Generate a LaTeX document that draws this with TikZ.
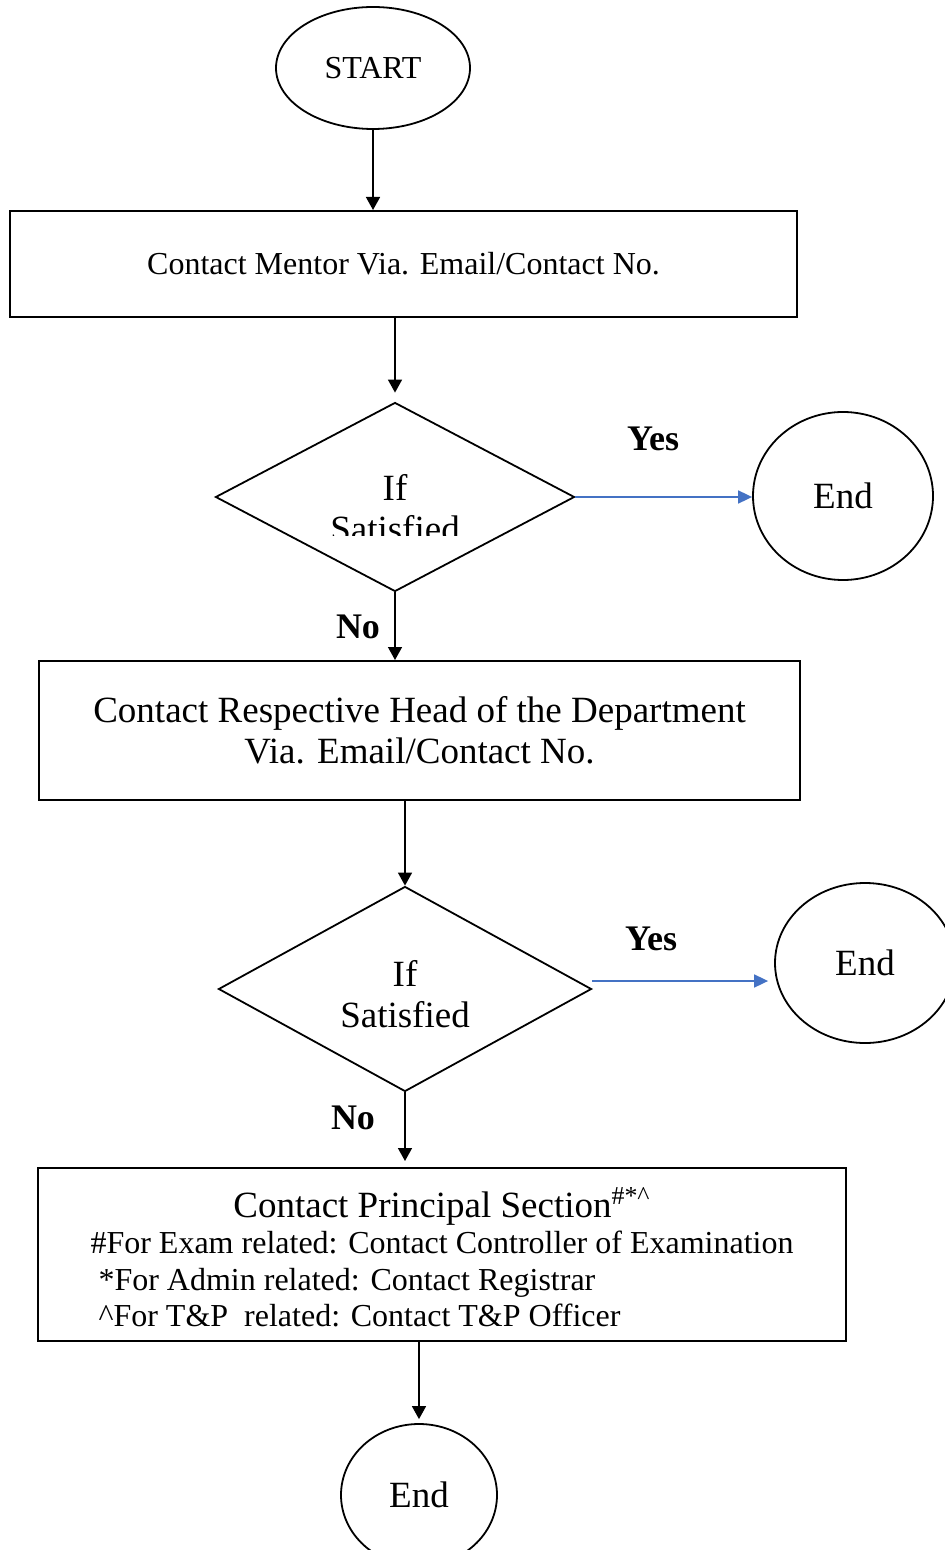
\documentclass[tikz,border=0pt]{standalone}
\usepackage{fontspec}
\setmainfont{Liberation Serif}
\usetikzlibrary{shapes.geometric,arrows.meta,positioning}
\definecolor{yesblue}{RGB}{68,114,196}
\tikzset{
  procbox/.style={draw,line width=1pt,rectangle,inner sep=0pt,align=center},
  decision/.style={draw,line width=0.9pt,diamond,inner sep=0pt,aspect=2},
  terminal/.style={draw,line width=0.9pt,ellipse,inner sep=0pt},
  flow/.style={line width=0.75pt,-{Triangle[length=6.5pt,width=7pt]}},
  yesflow/.style={yesblue,line width=0.85pt,-{Triangle[length=7pt,width=6.5pt]}},
  answer/.style={font=\fontsize{18}{20}\selectfont\bfseries},
  bigtext/.style={font=\fontsize{18.5}{20.5}\selectfont},
  smalltext/.style={font=\fontsize{16}{18.25}\selectfont}
}
\begin{document}
\begin{tikzpicture}[x=0.5pt,y=-0.5pt]
    \useasboundingbox (0,0) rectangle (945,1550);

    % Shapes
    \node[terminal,smalltext,minimum width=97pt,minimum height=61pt] (start) at (373,68) {START};
    \node[procbox,smalltext,minimum width=393.5pt,minimum height=53pt] (mentor) at (403.5,264)
        {Contact Mentor Via. Email/Contact No.};
    \node[decision,minimum width=179.5pt,minimum height=94.5pt] (d1) at (395,497) {};
    \node[terminal,bigtext,minimum width=90pt,minimum height=84pt] (end1) at (843,496) {End};
    \node[procbox,bigtext,minimum width=380.5pt,minimum height=69.5pt] (hod) at (419.5,730.5)
        {Contact Respective Head of the Department\\Via. Email/Contact No.};
    \node[decision,minimum width=186.5pt,minimum height=102.5pt] (d2) at (405,989) {};
    \node[bigtext,align=center] (d2text) at (405,994) {If\\Satisfied};
    \node[terminal,bigtext,minimum width=90pt,minimum height=80pt] (end2) at (865,963) {End};
    \node[procbox,smalltext,minimum width=404pt,minimum height=86.5pt] (principal) at (442,1254.5)
        {\raisebox{-4pt}[\height][\depth]{\begin{tabular}{@{}l@{}}
         \multicolumn{1}{c}{\fontsize{18.5}{20}\selectfont Contact Principal Section\textsuperscript{\#*\textasciicircum}}\\
         \#For Exam related: Contact Controller of Examination\\
         \ *For Admin related: Contact Registrar\\
         \ \textasciicircum For T\&P\ \ related: Contact T\&P Officer
         \end{tabular}}};
    \node[terminal,bigtext,minimum width=78pt,minimum height=71pt] (end3) at (419,1495) {End};

    % first decision text, cut at the bottom
    \begin{scope}
        \clip (250,420) rectangle (550,535);
        \node[bigtext,align=center] (d1text) at (395,508) {If\\Satisfied};
    \end{scope}

    % Labels
    \node[answer] (yes1) at (653,439) {Yes};
    \node[answer] (no1) at (358,627) {No};
    \node[answer] (yes2) at (651,939) {Yes};
    \node[answer] (no2) at (353,1118) {No};

    % Connectors
    \draw[flow] (start.south) -- (start.south |- mentor.north);
    \draw[flow] (d1.north |- mentor.south) -- ([yshift=4.5pt]d1.north);
    \draw[yesflow] (d1.east) -- (d1.east -| end1.west);
    \draw[flow] (d1.south) -- (d1.south |- hod.north);
    \draw[flow] (d2.north |- hod.south) -- (d2.north);
    \coordinate (yes2a) at ([yshift=4pt]d2.east);
    \draw[yesflow] (yes2a) -- ([xshift=-3pt]yes2a -| end2.west);
    \draw[flow] (d2.south) -- ([yshift=3pt]d2.south |- principal.north);
    \draw[flow] (end3.north |- principal.south) -- ([yshift=2pt]end3.north);
\end{tikzpicture}
\end{document}
